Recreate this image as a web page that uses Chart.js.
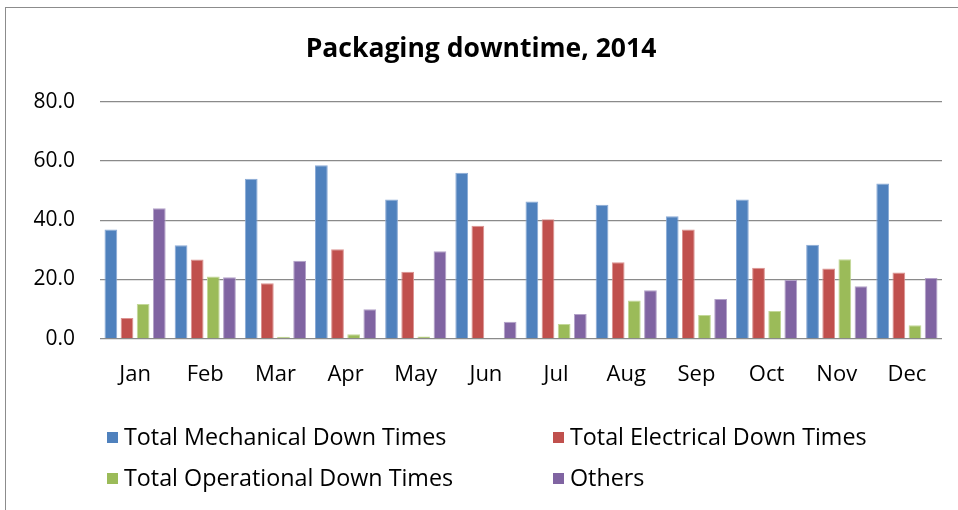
<!DOCTYPE html>
<html lang="en">
<head>
  <meta charset="UTF-8" />
  <title>Packaging downtime, 2014</title>
  <style>
    body { margin: 0; background: #fff; overflow: hidden; }
    #wrap { position: relative; width: 958px; height: 510px; }
    #frame {
      position: absolute; left: 5px; top: 7px; width: 1000px; height: 600px;
      border: 1px solid #8c8c8c; box-sizing: border-box;
    }
    canvas { position: absolute; left: 0; top: 0; }
  </style>
</head>
<body>
  <div id="wrap">
    <div id="frame"></div>
    <canvas id="myChart" width="958" height="510"></canvas>
  </div>

  <script src="https://cdn.jsdelivr.net/npm/chart.js"></script>
  <script>
    const months = ['Jan', 'Feb', 'Mar', 'Apr', 'May', 'Jun', 'Jul', 'Aug', 'Sep', 'Oct', 'Nov', 'Dec'];
    const mechanical = [36.9, 31.5, 54.0, 58.6, 47.0, 56.0, 46.3, 45.2, 41.3, 47.0, 31.7, 52.4];
    const electrical = [7.0, 26.7, 18.7, 30.2, 22.6, 38.1, 40.3, 25.8, 36.9, 23.9, 23.7, 22.3];
    const operational = [11.7, 21.0, 0.6, 1.5, 0.7, 0, 4.9, 12.9, 8.0, 9.3, 26.8, 4.5];
    const others = [44.0, 20.7, 26.3, 9.9, 29.5, 5.7, 8.3, 16.3, 13.4, 19.8, 17.7, 20.5];
    const yTicks = [0, 20, 40, 60, 80];

    const FONT = "'Open Sans', sans-serif";

    // two-column legend like the Excel original
    const gridLegend = {
      id: 'gridLegend',
      afterDraw(chart) {
        const ctx = chart.ctx;
        const cols = [107, 553];
        const rows = [438, 479];
        ctx.save();
        ctx.font = '23.3px ' + FONT;
        ctx.textBaseline = 'middle';
        chart.data.datasets.forEach((ds, i) => {
          const x = cols[i % 2];
          const y = rows[Math.floor(i / 2)];
          ctx.fillStyle = ds.backgroundColor;
          ctx.fillRect(x, y - 6, 11, 11);
          ctx.fillStyle = '#000';
          ctx.fillText(ds.label, x + 17, y);
        });
        ctx.restore();
      }
    };

    const bar = (label, data, fill, edge) => ({
      label, data,
      backgroundColor: fill,
      borderColor: edge,
      borderWidth: 1,
      borderSkipped: 'bottom',
      categoryPercentage: 0.92,
      barPercentage: 0.79
    });

    new Chart(document.getElementById('myChart'), {
      type: 'bar',
      data: {
        labels: months,
        datasets: [
          bar('Total Mechanical Down Times', mechanical, '#4F81BD', '#8aaad6'),
          bar('Total Electrical Down Times', electrical, '#C0504D', '#dc9391'),
          bar('Total Operational Down Times', operational, '#9BBB59', '#c3d898'),
          bar('Others', others, '#8064A2', '#b3a2c8')
        ]
      },
      options: {
        responsive: false,
        animation: false,
        layout: { padding: { left: 20, right: 16, top: 0, bottom: 107 } },
        plugins: {
          legend: { display: false },
          tooltip: { enabled: false },
          title: {
            display: true,
            text: 'Packaging downtime, 2014',
            color: '#000',
            font: { family: FONT, size: 26.5, weight: 'bold' },
            padding: { top: 34, bottom: 36 }
          }
        },
        scales: {
          x: {
            grid: { display: false },
            border: { display: false },
            ticks: { color: '#000', padding: 15, font: { family: FONT, size: 22 } }
          },
          y: {
            min: 0, max: 80,
            afterFit(scale) { scale.width = 80; },
            afterBuildTicks(scale) { scale.ticks = yTicks.map(v => ({ value: v })); },
            grid: { color: '#8a8a8a', lineWidth: 1.3, drawTicks: false },
            border: { display: false },
            ticks: {
              color: '#000', padding: 25,
              font: { family: FONT, size: 21 },
              callback: v => v.toFixed(1)
            }
          }
        }
      },
      plugins: [gridLegend]
    });
  </script>
</body>
</html>
